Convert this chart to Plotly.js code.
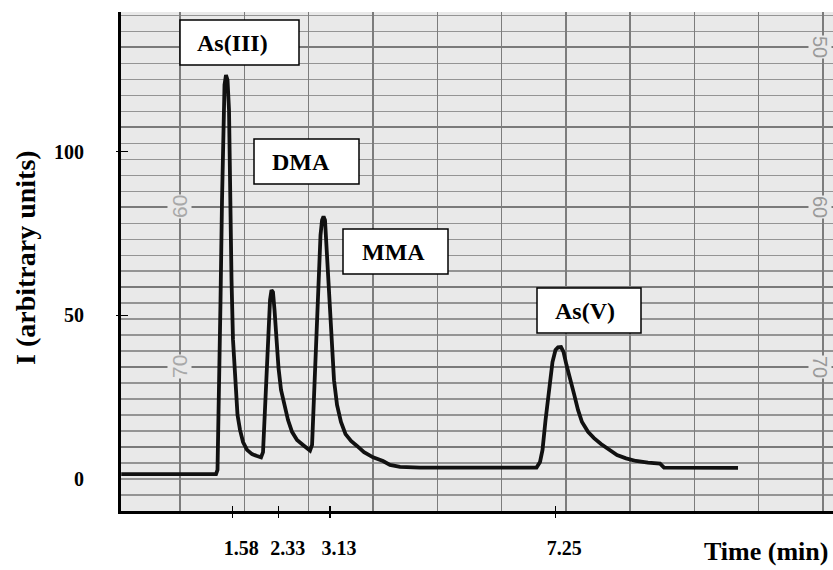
<!DOCTYPE html>
<html>
<head>
<meta charset="utf-8">
<script src="https://cdn.plot.ly/plotly-3.0.1.min.js"></script>
<style>html,body{margin:0;padding:0;background:#fff;}#chart{width:833px;height:570px;}</style>
</head>
<body>
<div id="chart"></div>
<script>
// Chromatogram trace (time in min, intensity in arbitrary units)
const timeMin = [
  -0.37, 1.294, 1.320, 1.347, 1.373, 1.399, 1.426, 1.443, 1.469, 1.496, 1.522, 1.540, 1.566, 1.592, 1.627, 1.671, 1.715, 1.768, 1.838, 1.926, 2.014, 2.084,
  2.119, 2.145, 2.180, 2.215, 2.242, 2.268, 2.294, 2.321, 2.356, 2.391, 2.435, 2.488, 2.558, 2.628, 2.716, 2.821, 2.891, 2.944,
  2.980, 3.005, 3.032, 3.058, 3.093, 3.128, 3.155, 3.181, 3.207, 3.234, 3.278, 3.321, 3.365, 3.418, 3.487, 3.567, 3.664, 3.769, 3.892, 4.050, 4.225, 4.348, 4.524, 4.875,
  6.920, 6.981, 7.025, 7.078, 7.139, 7.200, 7.253, 7.297, 7.350, 7.394, 7.446, 7.508, 7.578, 7.648, 7.718, 7.824, 7.929, 8.052, 8.192, 8.333, 8.491, 8.666, 8.877, 9.088, 9.158, 9.790, 10.457
];
const intensity = [
  1.5, 1.5, 2.8, 24.1, 54.7, 85.2, 109.7, 120.4, 123.4, 121.9, 112.7, 85.2, 60.8, 42.5, 30.2, 19.6, 15.0, 11.3, 8.9, 7.6, 7.0, 6.6,
  8.2, 18.0, 33.3, 45.5, 54.7, 57.7, 57.1, 51.6, 42.5, 33.9, 27.2, 22.6, 18.0, 14.4, 11.9, 10.4, 9.5, 8.7,
  10.4, 21.1, 33.3, 48.6, 63.9, 74.5, 79.1, 80.2, 79.1, 71.5, 57.7, 42.5, 30.2, 22.6, 17.4, 13.7, 11.6, 10.1, 8.2, 6.6, 5.5, 4.3, 3.7, 3.5,
  3.5, 5.2, 8.9, 18.0, 27.8, 35.7, 39.4, 40.2, 40.3, 38.8, 34.8, 30.2, 26.0, 21.1, 17.4, 14.4, 12.5, 10.7, 8.9, 7.3, 6.3, 5.5, 5.0, 4.7, 3.5, 3.4, 3.4
];
const peakNames = ["As(III)", "DMA", "MMA", "As(V)"];
const xTickLabels = ["1.58", "2.33", "3.13", "7.25"];
const xTickPositions = [1.58, 2.394, 3.295, 7.25];
const yTickValues = [0, 50, 100];
const yTickLabels = ["0", "50", "100"];
const chartPaperNumbers = ["50", "60", "70"];

// ---- layout helpers (positions / styles only) ----
const XR = [-0.374, 12.124];
const YR = [-9.78, 142.68];
const serif = "Liberation Serif, Times New Roman, serif";
const sans = "Liberation Sans, Arial, sans-serif";
const px2x = p => (p - 121) / 712;
const px2y = p => (511 - p) / 499;

// label boxes [x0,x1,y0,y1] and text left in pixels
const boxPx = [[180, 299, 20, 65], [254, 359, 139, 184], [343, 448, 229, 274], [537, 641, 288, 333]];
const textLeftPx = [195, 270, 360, 553];

const shapes = boxPx.map(b => ({
  type: 'rect', xref: 'paper', yref: 'paper', layer: 'above',
  x0: px2x(b[0]), x1: px2x(b[1]), y0: px2y(b[3]), y1: px2y(b[2]),
  fillcolor: '#ffffff', line: {color: '#000', width: 1.5}
}));

const annotations = [];
peakNames.forEach((name, i) => {
  const b = boxPx[i];
  annotations.push({
    text: name, xref: 'paper', yref: 'paper', showarrow: false,
    x: px2x(textLeftPx[i]), y: px2y((b[2] + b[3]) / 2), xanchor: 'left', yanchor: 'middle',
    font: {family: serif, size: 24, weight: 'bold', color: '#000'}
  });
});
// chart paper printed numbers (grey)
const paperNumYpx = [47, 207, 367];
chartPaperNumbers.forEach((n, i) => {
  annotations.push({
    text: n, xref: 'paper', yref: 'paper', showarrow: false,
    x: px2x(820), y: px2y(paperNumYpx[i]), xanchor: 'center', yanchor: 'middle',
    textangle: 90, bgcolor: '#e9e9e9', borderpad: 0,
    font: {family: sans, size: 20, color: '#9a9a9a'}
  });
  if (i > 0) {
    annotations.push({
      text: n, xref: 'paper', yref: 'paper', showarrow: false,
      x: px2x(180), y: px2y(paperNumYpx[i]), xanchor: 'center', yanchor: 'middle',
      textangle: -90, bgcolor: '#e9e9e9', borderpad: 0,
      font: {family: sans, size: 21, color: '#a8a8a8'}
    });
  }
});
// axis titles
annotations.push({
  text: 'Time (min)', xref: 'paper', yref: 'paper', showarrow: false,
  x: px2x(829), y: px2y(551), xanchor: 'right', yanchor: 'middle', borderpad: 0,
  font: {family: serif, size: 26, weight: 'bold', color: '#000'}
});
annotations.push({
  text: 'I (arbitrary units)', xref: 'paper', yref: 'paper', showarrow: false,
  x: px2x(25), y: px2y(258), xanchor: 'center', yanchor: 'middle', textangle: -90,
  font: {family: serif, size: 28, weight: 'bold', color: '#000'}
});

const hidden = {showticklabels: false, zeroline: false, showline: false};

const layout = {
  width: 833, height: 570,
  margin: {l: 121, r: 0, t: 12, b: 59, pad: 0},
  paper_bgcolor: '#ffffff', plot_bgcolor: '#e9e9e9',
  showlegend: false,
  font: {family: serif, color: '#000'},
  xaxis: {
    range: XR, tickmode: 'array', tickvals: xTickPositions, ticktext: xTickLabels,
    ticks: '', ticklabelshift: 9, ticklabelstandoff: 17,
    showline: true, linecolor: '#000', linewidth: 3, showgrid: false, zeroline: false,
    tickfont: {family: serif, size: 20, weight: 'bold', color: '#000'}
  },
  yaxis: {
    range: YR, tickmode: 'array', tickvals: yTickValues, ticktext: yTickLabels,
    ticks: '', ticklabelstandoff: 30,
    showline: true, linecolor: '#000', linewidth: 3, showgrid: false, zeroline: false,
    tickfont: {family: serif, size: 20, weight: 'bold', color: '#000'}
  },
  // crossing tick marks on the x axis
  xaxis2: Object.assign({
    overlaying: 'x', anchor: 'free', position: 0.012, side: 'bottom', range: XR,
    tickmode: 'array', tickvals: xTickPositions, ticks: 'outside', ticklen: 12, tickwidth: 1.5, tickcolor: '#000',
    showgrid: false
  }, hidden),
  // vertical chart-paper lines
  xaxis3: Object.assign({
    overlaying: 'x', anchor: 'y', range: XR, tickmode: 'linear', tick0: 0.662, dtick: 1.1287,
    ticks: '', showgrid: true, gridcolor: '#7c7c7c', gridwidth: 1.4
  }, hidden),
  // horizontal chart-paper lines
  yaxis2: Object.assign({
    overlaying: 'y', anchor: 'x', range: YR, tickmode: 'linear', tick0: 9.869, dtick: 24.41,
    ticks: '', showgrid: true, gridcolor: '#7a7a7a', gridwidth: 2,
    minor: {tickmode: 'linear', tick0: -4.889, dtick: 4.882, showgrid: true, gridcolor: '#949494', gridwidth: 1.6, ticks: ''}
  }, hidden),
  // crossing tick marks on the y axis
  yaxis3: Object.assign({
    overlaying: 'y', anchor: 'free', position: 0.0098, side: 'left', range: YR,
    tickmode: 'array', tickvals: [50, 100], ticks: 'outside', ticklen: 12, tickwidth: 1.5, tickcolor: '#000',
    showgrid: false
  }, hidden),
  shapes: shapes,
  annotations: annotations
};

const empty = (xa, ya) => ({x: [], y: [], xaxis: xa, yaxis: ya, type: 'scatter', mode: 'lines', hoverinfo: 'skip', showlegend: false});

const data = [
  empty('x3', 'y'), empty('x', 'y2'),
  {
    x: timeMin, y: intensity, type: 'scatter', mode: 'lines', xaxis: 'x', yaxis: 'y',
    line: {color: '#111111', width: 3.8, shape: 'linear'}, hoverinfo: 'skip'
  },
  empty('x2', 'y'), empty('x', 'y3')
];

Plotly.newPlot('chart', data, layout, {staticPlot: true, displayModeBar: false});
</script>
</body>
</html>
